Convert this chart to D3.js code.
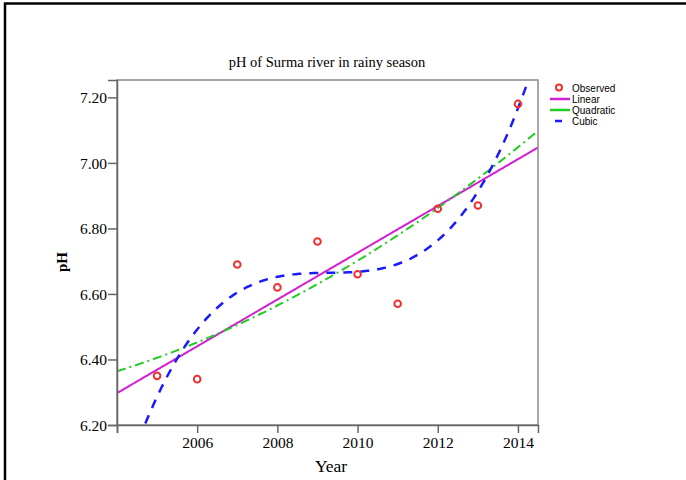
<!DOCTYPE html>
<html>
<head>
<meta charset="utf-8">
<script src="https://cdn.jsdelivr.net/npm/d3@7"></script>
<style>
  body { margin: 0; background: #fff; }
  svg { display: block; }
</style>
</head>
<body>
<script>
// observed pH values, rainy season
let years = [2005, 2006, 2007, 2008, 2009, 2010, 2011, 2012, 2013, 2014];
let ph = [6.35, 6.34, 6.69, 6.62, 6.76, 6.66, 6.57, 6.86, 6.87, 7.18];

let yTicks = [6.2, 6.4, 6.6, 6.8, 7.0, 7.2];
let xTicks = [2004, 2006, 2008, 2010, 2012, 2014];
let legendNames = ["Observed", "Linear", "Quadratic", "Cubic"];

let width = 686, height = 480;
let margin = {top: 80, left: 117, right: 148, bottom: 55};

let svg = d3.select("body").append("svg")
  .attr("width", width)
  .attr("height", height);

// outer black frame (left + top only show)
svg.append("path")
  .attr("d", "M5,480 V3.5 H686")
  .attr("fill", "none")
  .attr("stroke", "#000")
  .attr("stroke-width", 2.5);

let xscale = d3.scaleLinear().domain([2004, 2014.5]).range([margin.left, width - margin.right]);
let yscale = d3.scaleLinear().domain([6.2, 7.253]).range([height - margin.bottom, margin.top]);

// least squares poly fit of the observed points (what the fit lines show)
function polyfit(xs, ys, deg) {
  let n = deg + 1;
  let A = [], b = [];
  for (let i = 0; i < n; i++) {
    A.push(new Array(n).fill(0));
    b.push(0);
  }
  xs.forEach((x, k) => {
    for (let i = 0; i < n; i++) {
      for (let j = 0; j < n; j++) A[i][j] += Math.pow(x, i + j);
      b[i] += ys[k] * Math.pow(x, i);
    }
  });
  for (let i = 0; i < n; i++) {
    let p = i;
    for (let r = i + 1; r < n; r++) if (Math.abs(A[r][i]) > Math.abs(A[p][i])) p = r;
    [A[i], A[p]] = [A[p], A[i]];
    [b[i], b[p]] = [b[p], b[i]];
    for (let r = i + 1; r < n; r++) {
      let f = A[r][i] / A[i][i];
      for (let c = i; c < n; c++) A[r][c] -= f * A[i][c];
      b[r] -= f * b[i];
    }
  }
  let coef = new Array(n).fill(0);
  for (let i = n - 1; i >= 0; i--) {
    let s = b[i];
    for (let c = i + 1; c < n; c++) s -= A[i][c] * coef[c];
    coef[i] = s / A[i][i];
  }
  return coef;
}

let t0 = 2009.5;
let ts = years.map(d => d - t0);
let fits = [
  {name: "Linear", deg: 1, color: "#d31fd3", dash: null, w: 2},
  {name: "Quadratic", deg: 2, color: "#22cc22", dash: "9,4,2,4", w: 2},
  {name: "Cubic", deg: 3, color: "#1a1aff", dash: "9,8", w: 2.5}
];

let xs = d3.range(2004, 2014.5001, 0.05);

svg.append("clipPath").attr("id", "clip")
  .append("rect")
  .attr("x", margin.left).attr("y", margin.top)
  .attr("width", width - margin.left - margin.right)
  .attr("height", height - margin.top - margin.bottom);

let plot = svg.append("g").attr("clip-path", "url(#clip)");

let line = d3.line().x(d => xscale(d[0])).y(d => yscale(d[1]));

fits.forEach(f => {
  let c = polyfit(ts, ph, f.deg);
  let pts = xs.map(x => {
    let t = x - t0;
    return [x, c.reduce((s, v, i) => s + v * Math.pow(t, i), 0)];
  });
  plot.append("path")
    .datum(pts)
    .attr("d", line)
    .attr("fill", "none")
    .attr("stroke", f.color)
    .attr("stroke-width", f.w)
    .attr("stroke-dasharray", f.dash);
});

// observed circles
svg.selectAll("circle.obs")
  .data(years)
  .enter()
  .append("circle")
    .attr("class", "obs")
    .attr("cx", d => xscale(d))
    .attr("cy", (d, i) => yscale(ph[i]))
    .attr("r", 3.3)
    .attr("fill", "none")
    .attr("stroke", "#ee3030")
    .attr("stroke-width", 2);

// plot frame
svg.append("rect")
  .attr("x", margin.left).attr("y", margin.top)
  .attr("width", width - margin.left - margin.right)
  .attr("height", height - margin.top - margin.bottom)
  .attr("fill", "none")
  .attr("stroke", "#8a8a8a")
  .attr("stroke-width", 1.5);

// axes
let yaxis = d3.axisLeft(yscale).tickValues(yTicks).tickFormat(d3.format(".2f")).tickSize(9).tickPadding(1);
let xaxis = d3.axisBottom(xscale).tickValues(xTicks).tickFormat(d => d == 2004 ? "" : d).tickSize(8).tickPadding(4);

let gy = svg.append("g")
  .attr("transform", "translate(" + margin.left + ",0)")
  .call(yaxis);
let gx = svg.append("g")
  .attr("transform", "translate(0," + (height - margin.bottom) + ")")
  .call(xaxis);

[gx, gy].forEach(g => {
  g.select(".domain").attr("stroke", "#666").attr("stroke-width", 1.5);
  g.selectAll(".tick line").attr("stroke", "#666").attr("stroke-width", 1.5);
  g.selectAll("text")
    .attr("fill", "#000")
    .style("font-family", "'Liberation Serif', 'Times New Roman', serif")
    .style("font-size", "15.5px");
});
gy.selectAll("text").attr("dy", "0.35em");

// titles
svg.append("text")
  .attr("x", 327).attr("y", 67)
  .attr("text-anchor", "middle")
  .style("font-family", "'Liberation Serif', serif")
  .style("font-size", "14.5px")
  .text("pH of Surma river in rainy season");

svg.append("text")
  .attr("x", 331).attr("y", 472)
  .attr("text-anchor", "middle")
  .style("font-family", "'Liberation Serif', serif")
  .style("font-size", "17.5px")
  .text("Year");

svg.append("text")
  .attr("transform", "translate(67,262) rotate(-90)")
  .attr("text-anchor", "middle")
  .style("font-family", "'Liberation Serif', serif")
  .style("font-size", "15px")
  .style("font-weight", "bold")
  .text("pH");

// legend
let leg = svg.append("g").attr("transform", "translate(550,88)");
legendNames.forEach((name, i) => {
  let y = i * 11;
  if (i == 0) {
    leg.append("circle").attr("cx", 9).attr("cy", y - 0.5).attr("r", 3)
      .attr("fill", "none").attr("stroke", "#ee3030").attr("stroke-width", 2);
  } else {
    let f = fits[i - 1];
    let x1 = f.name == "Cubic" ? 5 : 0, x2 = f.name == "Cubic" ? 12 : 20;
    leg.append("line").attr("x1", x1).attr("x2", x2).attr("y1", y).attr("y2", y)
      .attr("stroke", f.color).attr("stroke-width", 2.5);
  }
  leg.append("text")
    .attr("x", 22).attr("y", y).attr("dy", "0.35em")
    .style("font-family", "'Liberation Sans', Arial, sans-serif")
    .style("font-size", "10px")
    .text(name);
});
</script>
</body>
</html>
